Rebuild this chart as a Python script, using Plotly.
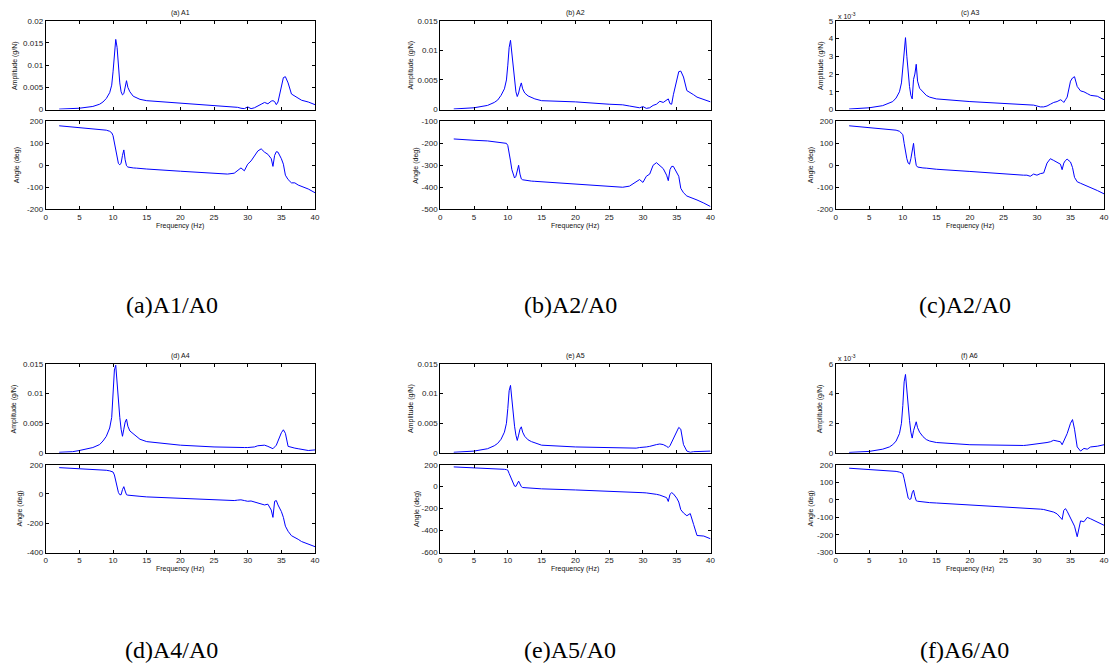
import plotly.graph_objects as go

# ---------------- data ----------------
freq = [2, 4, 5, 7, 8, 8.5, 9, 9.5, 9.8, 10,
        10.2, 10.4, 10.6, 10.8, 11, 11.2, 11.4, 11.6, 11.8, 12,
        12.2, 12.5, 13, 13.5, 14, 15, 20, 25, 27, 28,
        28.5, 29, 29.5, 30, 30.5, 31, 31.5, 32, 32.5, 33,
        33.5, 33.75, 34, 34.25, 34.5, 35, 35.3, 35.6, 36, 36.5,
        37, 37.5, 38, 39, 40]

a_amp = [0.0001, 0.0002, 0.0003, 0.0007, 0.0012, 0.0017, 0.0025, 0.0038, 0.0055, 0.0085,
         0.0130, 0.0158, 0.0140, 0.0095, 0.0060, 0.0040, 0.0033, 0.0036, 0.0052, 0.0065,
         0.0050, 0.0040, 0.0030, 0.0026, 0.0023, 0.0020, 0.0015, 0.0010, 0.0008, 0.0006,
         0.0005, 0.0003, 0.0002, 0.0006, 0.0002, 0.0004, 0.0009, 0.0012, 0.0016, 0.0013,
         0.0019, 0.0020, 0.0018, 0.0011, 0.0017, 0.0050, 0.0072, 0.0074, 0.0060, 0.0035,
         0.0030, 0.0027, 0.0021, 0.0017, 0.0011]
a_ang = [180, 174, 172, 168, 165, 163, 160, 155, 148, 135,
         100, 60, 30, 8, 2, 10, 45, 70, 25, -2,
         -8, -10, -12, -13, -15, -17, -27, -38, -40, -36,
         -25, -12, -25, 5, 20, 40, 65, 75, 60, 50,
         30, -5, 45, 62, 60, 30, 5, -45, -65, -80,
         -80, -90, -95, -108, -125]

b_amp = [0.0001, 0.0002, 0.0003, 0.0007, 0.0012, 0.0016, 0.0024, 0.0035, 0.0050, 0.0075,
         0.0105, 0.0117, 0.0095, 0.0065, 0.0045, 0.0030, 0.0022, 0.0028, 0.0038, 0.0045,
         0.0035, 0.0028, 0.0023, 0.0020, 0.0018, 0.0015, 0.0013, 0.0009, 0.0008, 0.0006,
         0.0005, 0.0004, 0.0003, 0.0005, 0.0002, 0.0003, 0.0007, 0.0009, 0.0014, 0.0012,
         0.0017, 0.0018, 0.0010, 0.0009, 0.0025, 0.0050, 0.0064, 0.0065, 0.0055, 0.0032,
         0.0029, 0.0025, 0.0021, 0.0017, 0.0013]
b_ang = [-180, -185, -186, -189, -192, -194, -196, -198, -200, -210,
         -240, -280, -320, -345, -358, -350, -320, -300, -340, -362,
         -366, -368, -370, -372, -373, -375, -385, -395, -400, -395,
         -385, -378, -365, -378, -350, -340, -300, -288, -300, -315,
         -345, -370, -320, -305, -305, -335, -350, -405, -425, -440,
         -445, -450, -458, -472, -488]

c_amp_e3 = [0.03, 0.06, 0.10, 0.22, 0.35, 0.45, 0.65, 1.0, 1.5, 2.5,
            3.6, 4.05, 3.0, 2.0, 1.3, 0.8, 0.6, 1.7, 2.0, 2.55,
            1.6, 1.2, 1.0, 0.8, 0.7, 0.6, 0.45, 0.35, 0.32, 0.3,
            0.28, 0.25, 0.25, 0.2, 0.15, 0.15, 0.2, 0.3, 0.4, 0.45,
            0.55, 0.5, 0.4, 0.55, 0.7, 1.6, 1.78, 1.85, 1.3, 1.05,
            1.0, 0.9, 0.8, 0.75, 0.55]
c_ang = [180, 174, 172, 168, 165, 163, 160, 155, 148, 140,
         100, 60, 30, 10, 5, 30, 70, 100, 40, 0,
         -8, -10, -12, -13, -15, -18, -28, -40, -45, -45,
         -45, -50, -40, -45, -38, -35, 10, 30, 22, 15,
         5, -20, 10, 22, 28, 15, -10, -55, -75, -82,
         -88, -95, -100, -115, -130]

d_amp = [0.0001, 0.0002, 0.0004, 0.0009, 0.0014, 0.0020, 0.0028, 0.0042, 0.0060, 0.0095,
         0.0140, 0.0148, 0.0120, 0.0080, 0.0060, 0.0040, 0.0028, 0.0040, 0.0052, 0.0057,
         0.0045, 0.0037, 0.0032, 0.0027, 0.0023, 0.0019, 0.0013, 0.0010, 0.0009, 0.0009,
         0.0009, 0.0009, 0.0009, 0.0009, 0.0009, 0.0010, 0.0012, 0.0012, 0.0013, 0.0011,
         0.0008, 0.0007, 0.0010, 0.0013, 0.0020, 0.0034, 0.0039, 0.0033, 0.0011, 0.0009,
         0.0008, 0.0007, 0.0006, 0.0004, 0.0005]
d_ang = [180, 175, 174, 170, 167, 165, 162, 158, 155, 150,
         130, 90, 50, 10, -5, -5, 30, 50, 20, -5,
         -8, -10, -12, -14, -16, -20, -30, -42, -45, -45,
         -42, -40, -45, -50, -48, -55, -60, -65, -75, -70,
         -110, -160, -50, -45, -75, -120, -160, -220, -255, -285,
         -295, -310, -325, -340, -360]

e_amp = [0.0001, 0.0002, 0.0003, 0.0007, 0.0012, 0.0016, 0.0023, 0.0035, 0.0050, 0.0075,
         0.0105, 0.0114, 0.0090, 0.0060, 0.0045, 0.0030, 0.0021, 0.0030, 0.0040, 0.0044,
         0.0035, 0.0028, 0.0022, 0.0019, 0.0017, 0.0013, 0.0010, 0.0009, 0.0009, 0.0008,
         0.0008, 0.0008, 0.0009, 0.0009, 0.0010, 0.0011, 0.0013, 0.0014, 0.0015, 0.0014,
         0.0011, 0.0009, 0.0012, 0.0018, 0.0025, 0.0038, 0.0043, 0.0040, 0.0014, 0.0003,
         0.0001, 0.0002, 0.0002, 0.0002, 0.0003]
e_ang = [180, 175, 173, 170, 167, 165, 162, 158, 155, 150,
         120, 90, 50, 20, 5, 2, 30, 50, 25, 0,
         -8, -10, -12, -14, -16, -20, -30, -40, -43, -45,
         -46, -47, -50, -55, -57, -60, -65, -70, -77, -85,
         -100, -135, -70, -55, -65, -105, -140, -210, -240, -265,
         -245, -345, -445, -450, -475]

f_amp_e3 = [0.03, 0.06, 0.10, 0.25, 0.40, 0.55, 0.80, 1.3, 2.0, 3.2,
            4.8, 5.3, 4.2, 2.8, 2.2, 1.4, 1.0, 1.5, 1.9, 2.1,
            1.7, 1.4, 1.1, 0.9, 0.8, 0.7, 0.55, 0.5, 0.5, 0.5,
            0.52, 0.55, 0.55, 0.6, 0.62, 0.65, 0.7, 0.75, 0.85, 0.8,
            0.75, 0.55, 0.8, 1.0, 1.3, 2.0, 2.25, 1.6, 0.4, 0.12,
            0.3, 0.25, 0.4, 0.45, 0.55]
f_ang = [180, 175, 173, 170, 167, 165, 162, 158, 155, 150,
         120, 80, 40, 10, 3, 5, 40, 55, 20, -5,
         -8, -10, -12, -14, -16, -18, -28, -40, -43, -45,
         -46, -47, -48, -50, -53, -55, -60, -65, -70, -80,
         -100, -112, -60, -50, -65, -105, -130, -150, -210, -120,
         -125, -100, -108, -125, -145]

titles = ["(a) A1", "(b) A2", "(c) A3", "(d) A4", "(e) A5", "(f) A6"]
captions = ["(a)A1/A0", "(b)A2/A0", "(c)A2/A0", "(d)A4/A0", "(e)A5/A0", "(f)A6/A0"]
amp_series = [a_amp, b_amp, c_amp_e3, d_amp, e_amp, f_amp_e3]
ang_series = [a_ang, b_ang, c_ang, d_ang, e_ang, f_ang]

amp_ticks = [[0, 0.005, 0.01, 0.015, 0.02], [0, 0.005, 0.01, 0.015], [0, 1, 2, 3, 4, 5],
             [0, 0.005, 0.01, 0.015], [0, 0.005, 0.01, 0.015], [0, 2, 4, 6]]
amp_ticktext = [["0", "0.005", "0.01", "0.015", "0.02"], ["0", "0.005", "0.01", "0.015"],
                ["0", "1", "2", "3", "4", "5"], ["0", "0.005", "0.01", "0.015"],
                ["0", "0.005", "0.01", "0.015"], ["0", "2", "4", "6"]]
ang_ticks = [[-200, -100, 0, 100, 200], [-500, -400, -300, -200, -100], [-200, -100, 0, 100, 200],
             [-400, -200, 0, 200], [-600, -400, -200, 0, 200], [-300, -200, -100, 0, 100, 200]]
freq_ticks = [0, 5, 10, 15, 20, 25, 30, 35, 40]

# ---------------- layout geometry (pixels) ----------------
W, H = 1115, 668
cols = [(44, 315), (441, 713), (839, 1109)]
rows = [dict(amp=(17, 107), ang=(119, 208), title_y=9, freq_y=225, cap_y=305, sci_y=12),
        dict(amp=(365, 455), ang=(467, 556), title_y=357, freq_y=573, cap_y=655, sci_y=359)]
amp_lab_x = [13, 412, 824]
ang_lab_x = [[15, 417, 814], [18, 417, 814]]
cap_x = [171, 572, 969]


def fx(x):
    return x / W


def fy(y):
    return 1 - y / H


fig = go.Figure()
tickfont = dict(family="Liberation Sans, Arial, sans-serif", size=8, color="#222")
labfont = dict(family="Liberation Sans, Arial, sans-serif", size=7, color="#111")
common = dict(showline=True, linecolor="black", linewidth=1, mirror="ticks",
              ticks="inside", ticklen=3, tickcolor="black", tickwidth=1,
              showgrid=False, zeroline=False, tickfont=tickfont,
              ticklabeloverflow="allow")

annotations = []
layout_axes = {}
n = 0
for p in range(6):
    r, c = divmod(p, 3)
    row = rows[r]
    x0, x1 = cols[c]
    for kind in ("amp", "ang"):
        n += 1
        sfx = "" if n == 1 else str(n)
        y0, y1 = row[kind]
        ys = amp_series[p] if kind == "amp" else ang_series[p]
        fig.add_trace(go.Scatter(x=freq, y=ys, mode="lines",
                                 line=dict(color="#0000FF", width=1),
                                 xaxis="x" + sfx, yaxis="y" + sfx,
                                 showlegend=False, hoverinfo="skip"))
        xa = dict(common, domain=[fx(x0), fx(x1)], anchor="y" + sfx, range=[0, 40],
                  tickvals=freq_ticks, showticklabels=(kind == "ang"))
        if kind == "amp":
            tv = amp_ticks[p]
            ya = dict(common, domain=[fy(y1), fy(y0)], anchor="x" + sfx,
                      range=[tv[0], tv[-1]], tickvals=tv, ticktext=amp_ticktext[p])
        else:
            tv = ang_ticks[p]
            ya = dict(common, domain=[fy(y1), fy(y0)], anchor="x" + sfx,
                      range=[tv[0], tv[-1]], tickvals=tv, ticktext=[str(v) for v in tv])
        layout_axes["xaxis" + sfx] = xa
        layout_axes["yaxis" + sfx] = ya

    # texts
    annotations.append(dict(text=titles[p], x=fx((x0 + x1) / 2), y=fy(row["title_y"]),
                            xref="paper", yref="paper", showarrow=False,
                            xanchor="center", yanchor="middle", font=labfont))
    annotations.append(dict(text="Frequency (Hz)", x=fx((x0 + x1) / 2), y=fy(row["freq_y"]),
                            xref="paper", yref="paper", showarrow=False,
                            xanchor="center", yanchor="middle", font=labfont))
    annotations.append(dict(text="Amplitude (g/N)", x=fx(amp_lab_x[c]),
                            y=fy(sum(row["amp"]) / 2), textangle=-90,
                            xref="paper", yref="paper", showarrow=False,
                            xanchor="center", yanchor="middle", font=labfont))
    annotations.append(dict(text="Angle (deg)", x=fx(ang_lab_x[r][c]),
                            y=fy(sum(row["ang"]) / 2), textangle=-90,
                            xref="paper", yref="paper", showarrow=False,
                            xanchor="center", yanchor="middle", font=labfont))
    annotations.append(dict(text=captions[p], x=fx(cap_x[c]), y=fy(row["cap_y"]),
                            xref="paper", yref="paper", showarrow=False,
                            xanchor="center", yanchor="middle",
                            font=dict(family="Liberation Serif, Times New Roman, serif",
                                      size=24, color="black")))
    if c == 2:
        annotations.append(dict(text="x 10<sup>-3</sup>", x=fx(x0), y=fy(row["sci_y"]),
                                xref="paper", yref="paper", showarrow=False,
                                xanchor="left", yanchor="middle", font=labfont))

fig.update_layout(width=W, height=H, autosize=False,
                  margin=dict(l=0, r=0, t=0, b=0),
                  paper_bgcolor="white", plot_bgcolor="white",
                  showlegend=False, annotations=annotations, **layout_axes)

fig.write_html("out.html", config={"displayModeBar": False, "staticPlot": True},
               post_script="document.body.style.margin='0';document.body.style.padding='0';document.body.style.overflow='hidden';")
